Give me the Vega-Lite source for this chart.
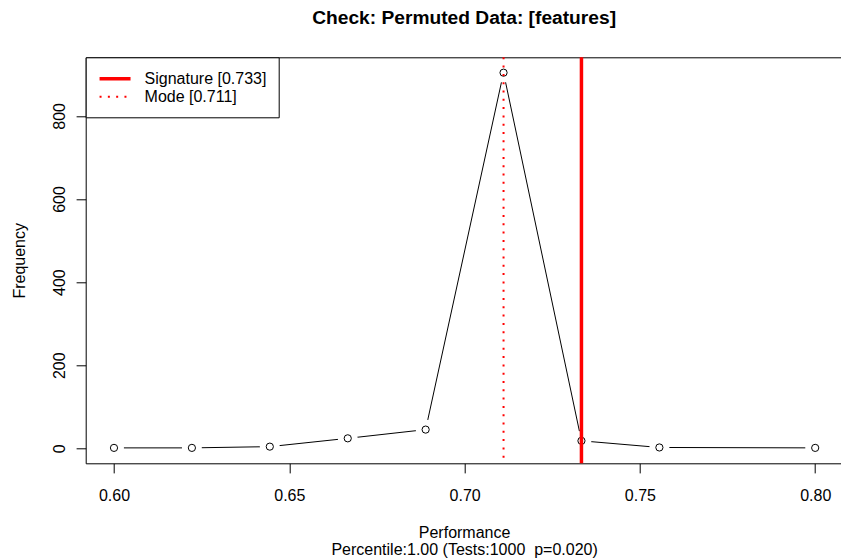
{
  "$schema": "https://vega.github.io/schema/vega-lite/v6.json",
  "width": 755.3,
  "height": 406,
  "autosize": {"type": "none"},
  "padding": {"left": 85.7, "top": 57.3, "right": 0, "bottom": 96.7},
  "background": "white",
  "title": {
    "text": "Check: Permuted Data: [features]",
    "fontSize": 19.2,
    "fontWeight": "bold",
    "font": "Liberation Sans",
    "color": "black",
    "anchor": "middle",
    "frame": "group",
    "baseline": "alphabetic",
    "offset": 12.1,
    "dx": 0.75
  },
  "datasets": {
    "freq": [
      {"perf": 0.6, "freq": 1},
      {"perf": 0.62222, "freq": 1},
      {"perf": 0.64444, "freq": 4},
      {"perf": 0.66667, "freq": 24},
      {"perf": 0.68889, "freq": 45},
      {"perf": 0.71111, "freq": 904},
      {"perf": 0.73333, "freq": 18},
      {"perf": 0.75556, "freq": 2},
      {"perf": 0.8, "freq": 1}
    ],
    "lines": [
      {"label": "Signature [0.733]", "value": 0.73333},
      {"label": "Mode [0.711]", "value": 0.71111}
    ]
  },
  "layer": [
    {
      "data": {"name": "freq"},
      "mark": {"type": "line", "color": "black", "strokeWidth": 1},
      "encoding": {
        "x": {
          "field": "perf", "type": "quantitative",
          "scale": {"domain": [0.59193, 0.80736], "nice": false, "zero": false},
          "axis": {
            "orient": "bottom",
            "values": [0.6, 0.65, 0.7, 0.75, 0.8],
            "format": ".2f",
            "labelBaseline": "middle",
            "labelPadding": 22.2,
            "labelFlush": false,
            "labelOverlap": false,
            "title": ["Performance", "Percentile:1.00 (Tests:1000\u00a0 p=0.020)"],
            "titleX": 378.4,
            "titleY": 74.4,
            "titleBaseline": "alphabetic",
            "titleAlign": "center",
            "titleLineHeight": 17
          }
        },
        "y": {
          "field": "freq", "type": "quantitative",
          "scale": {"domain": [-36.1, 941], "nice": false, "zero": false},
          "axis": {
            "values": [0, 200, 400, 600, 800],
            "format": "d",
            "labelAngle": -90,
            "labelAlign": "center",
            "labelBaseline": "middle",
            "labelPadding": 16.9,
            "labelOverlap": false,
            "title": "Frequency",
            "titleAngle": -90,
            "titleX": -66.5,
            "titleY": 203,
            "titleAlign": "center",
            "titleBaseline": "middle"
          }
        }
      }
    },
    {
      "data": {"name": "freq"},
      "mark": {"type": "point", "shape": "circle", "filled": true, "color": "white", "opacity": 1, "size": 400, "strokeWidth": 0},
      "encoding": {
        "x": {
          "field": "perf", "type": "quantitative",
          "axis": {"orient": "top", "domain": true, "ticks": false, "labels": false, "title": null, "grid": false}
        },
        "y": {"field": "freq", "type": "quantitative"}
      }
    },
    {
      "data": {"name": "freq"},
      "mark": {"type": "point", "shape": "circle", "filled": false, "stroke": "black", "fill": "white", "fillOpacity": 1, "opacity": 1, "strokeWidth": 1, "size": 52},
      "encoding": {
        "x": {"field": "perf", "type": "quantitative", "axis": null},
        "y": {"field": "freq", "type": "quantitative"}
      }
    },
    {
      "data": {"name": "lines"},
      "mark": {"type": "rule"},
      "encoding": {
        "x": {"field": "value", "type": "quantitative", "axis": null},
        "color": {
          "field": "label", "type": "nominal",
          "scale": {"domain": ["Signature [0.733]", "Mode [0.711]"], "range": ["#ff0000", "#ff0000"]},
          "legend": {"title": null}
        },
        "strokeDash": {
          "field": "label", "type": "nominal",
          "scale": {"domain": ["Signature [0.733]", "Mode [0.711]"], "range": [[1, 0], [2, 6.3]]},
          "legend": {"title": null}
        },
        "strokeWidth": {
          "field": "label", "type": "ordinal",
          "scale": {"domain": ["Signature [0.733]", "Mode [0.711]"], "range": [3.5, 2]},
          "legend": {"title": null}
        }
      }
    }
  ],
  "resolve": {"axis": {"x": "independent"}},
  "config": {
    "font": "Liberation Sans",
    "view": {"stroke": null},
    "axis": {
      "grid": false,
      "domainColor": "black",
      "domainWidth": 1,
      "tickColor": "black",
      "tickWidth": 1,
      "tickSize": 9.6,
      "labelColor": "black",
      "labelFontSize": 16,
      "labelFont": "Liberation Sans",
      "titleColor": "black",
      "titleFontSize": 16,
      "titleFont": "Liberation Sans",
      "titleFontWeight": "normal"
    },
    "legend": {
      "orient": "none",
      "legendX": 0,
      "legendY": 0,
      "strokeColor": "black",
      "fillColor": "white",
      "padding": 12,
      "symbolType": "M-2,0L2,0",
      "symbolSize": 240,
      "symbolOffset": 7.85,
      "labelFontSize": 16,
      "labelFont": "Liberation Sans",
      "labelColor": "black",
      "labelOffset": 20,
      "rowPadding": 0.4
    }
  }
}
